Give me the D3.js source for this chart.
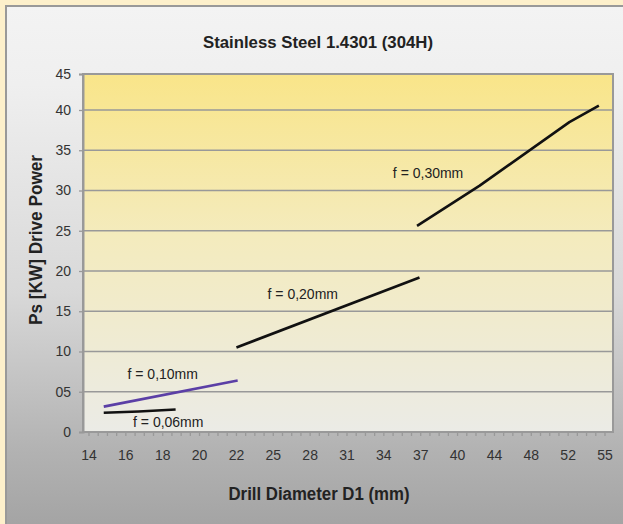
<!DOCTYPE html>
<html>
<head>
<meta charset="utf-8">
<script src="https://cdn.jsdelivr.net/npm/d3@7"></script>
<style>
  body { margin: 0; background: #fdf0cb; }
  svg text { font-family: "Liberation Sans", Arial, sans-serif; }
</style>
</head>
<body>
<div id="chart"></div>
<script>
// category labels on the x axis (drill diameter, mm)
const xTickLabels = [14, 16, 18, 20, 22, 25, 28, 31, 34, 37, 40, 44, 48, 52, 55];
const yTickValues = [0, 5, 10, 15, 20, 25, 30, 35, 40, 45];

// feed series, [diameter mm, drive power kW]
const seriesNames = ["f = 0,06mm", "f = 0,10mm", "f = 0,20mm", "f = 0,30mm"];
const feed006 = [[14.8, 2.4], [16.7, 2.55], [18.7, 2.8]];
const feed010 = [[14.8, 3.15], [22.1, 6.4]];
const feed020 = [[22.0, 10.5], [36.9, 19.2]];
const feed030 = [[36.7, 25.6], [42.4, 30.6], [52.1, 38.5], [54.5, 40.6]];

const width = 623, height = 524;
const margin = { top: 74, right: 10, bottom: 92, left: 83 };
const plotW = 613 - margin.left;
const plotH = 432 - margin.top;

const svg = d3.select("#chart").append("svg")
  .attr("width", width)
  .attr("height", height);

const defs = svg.append("defs");
const panelGrad = defs.append("linearGradient").attr("id", "panelGrad")
  .attr("x1", 0).attr("y1", 0).attr("x2", 0).attr("y2", 1);
[["0", "#f3f3f3"], ["0.15", "#efefef"], ["0.55", "#d8d8d8"], ["0.85", "#b2b2b2"], ["1", "#a3a3a3"]]
  .forEach(([o, c]) => panelGrad.append("stop").attr("offset", o).attr("stop-color", c));

const plotGrad = defs.append("linearGradient").attr("id", "plotGrad")
  .attr("x1", 0).attr("y1", 0).attr("x2", 0).attr("y2", 1);
[["0", "#f9e589"], ["0.45", "#f4ebbd"], ["1", "#ebebe6"]]
  .forEach(([o, c]) => plotGrad.append("stop").attr("offset", o).attr("stop-color", c));

// outer cream frame and grey panel
svg.append("rect").attr("width", width).attr("height", height).attr("fill", "#fdf0cb");
svg.append("rect")
  .attr("x", 6).attr("y", 6)
  .attr("width", width).attr("height", height)
  .attr("fill", "url(#panelGrad)")
  .attr("stroke", "#999").attr("stroke-width", 2);

// Scales: x axis is categorical with even spacing, so map tick values piecewise
const xIndex = d3.scaleLinear().domain([0, xTickLabels.length - 1]).range([89 - margin.left, 605 - margin.left]);
const xScale = d3.scaleLinear()
  .domain(xTickLabels)
  .range(xTickLabels.map((d, i) => xIndex(i)));
const yScale = d3.scaleLinear().domain([0, 40, 45]).range([plotH, 110 - margin.top, 0]);

const chart = svg.append("g").attr("transform", `translate(${margin.left},${margin.top})`);

chart.append("rect")
  .attr("width", plotW).attr("height", plotH)
  .attr("fill", "url(#plotGrad)");

// Gridlines
chart.selectAll(".grid").data(yTickValues.slice(1)).enter()
  .append("line")
  .attr("class", "grid")
  .attr("x1", 0).attr("x2", plotW)
  .attr("y1", d => yScale(d)).attr("y2", d => yScale(d))
  .attr("stroke", "#999").attr("stroke-width", 1.3);

chart.append("rect")
  .attr("width", plotW).attr("height", plotH)
  .attr("fill", "none").attr("stroke", "#999").attr("stroke-width", 2);

// Y axis
const yAxis = d3.axisLeft(yScale)
  .tickValues(yTickValues)
  .tickSize(4)
  .tickPadding(8)
  .tickFormat(d => d === 5 ? "05" : d);
const yAxisGroup = chart.append("g").call(yAxis);
yAxisGroup.select(".domain").attr("stroke", "#999").attr("stroke-width", 2);
yAxisGroup.selectAll(".tick line").attr("stroke", "#999").attr("stroke-width", 1.3);
yAxisGroup.selectAll("text")
  .style("font-family", "'Liberation Sans', Arial, sans-serif")
  .style("font-size", "14px").attr("fill", "#333");

// X axis: labels at categories, minor ticks in between
const minorTicks = d3.range(-0.5, xTickLabels.length - 0.5 + 0.01, 0.25)
  .map(i => xIndex(i))
  .filter(x => x >= 0 && x <= plotW);
chart.selectAll(".minor").data(minorTicks).enter()
  .append("line")
  .attr("class", "minor")
  .attr("x1", d => d).attr("x2", d => d)
  .attr("y1", plotH).attr("y2", plotH + 4)
  .attr("stroke", "#999").attr("stroke-width", 1.3);

chart.selectAll(".x-label").data(xTickLabels).enter()
  .append("text")
  .attr("class", "x-label")
  .attr("x", d => xScale(d))
  .attr("y", plotH + 28)
  .attr("text-anchor", "middle")
  .attr("fill", "#333")
  .style("font-size", "14px")
  .text(d => d);

// Lines
const line = d3.line().x(d => xScale(d[0])).y(d => yScale(d[1]));
const series = [
  { name: seriesNames[0], values: feed006, color: "#111" },
  { name: seriesNames[1], values: feed010, color: "#5b3fa6" },
  { name: seriesNames[2], values: feed020, color: "#111" },
  { name: seriesNames[3], values: feed030, color: "#111" },
];
chart.selectAll(".series").data(series).enter()
  .append("path")
  .attr("class", "series")
  .attr("d", d => line(d.values))
  .attr("fill", "none")
  .attr("stroke", d => d.color)
  .attr("stroke-width", 2.6)
  .attr("stroke-linejoin", "round");

// Series labels (centre x in mm, baseline in kW)
const labelPos = [[18.3, 0.62], [18.0, 6.58], [27.4, 16.5], [37.6, 31.55]];
chart.selectAll(".series-label").data(series).enter()
  .append("text")
  .attr("class", "series-label")
  .attr("x", (d, i) => xScale(labelPos[i][0]))
  .attr("y", (d, i) => yScale(labelPos[i][1]))
  .attr("text-anchor", "middle")
  .attr("fill", "#222")
  .style("font-size", "14px")
  .text(d => d.name);

// Title and axis labels
svg.append("text")
  .attr("x", 318).attr("y", 48)
  .attr("text-anchor", "middle")
  .attr("textLength", 230).attr("lengthAdjust", "spacingAndGlyphs")
  .attr("fill", "#222")
  .style("font-size", "17px").style("font-weight", "bold")
  .text("Stainless Steel 1.4301 (304H)");

svg.append("text")
  .attr("x", 319).attr("y", 500)
  .attr("text-anchor", "middle")
  .attr("textLength", 181).attr("lengthAdjust", "spacingAndGlyphs")
  .attr("fill", "#222")
  .style("font-size", "18px").style("font-weight", "bold")
  .text("Drill Diameter D1 (mm)");

svg.append("text")
  .attr("transform", "translate(42,240) rotate(-90)")
  .attr("text-anchor", "middle")
  .attr("textLength", 170).attr("lengthAdjust", "spacingAndGlyphs")
  .attr("fill", "#222")
  .style("font-size", "18px").style("font-weight", "bold")
  .text("Ps [KW] Drive Power");
</script>
</body>
</html>
